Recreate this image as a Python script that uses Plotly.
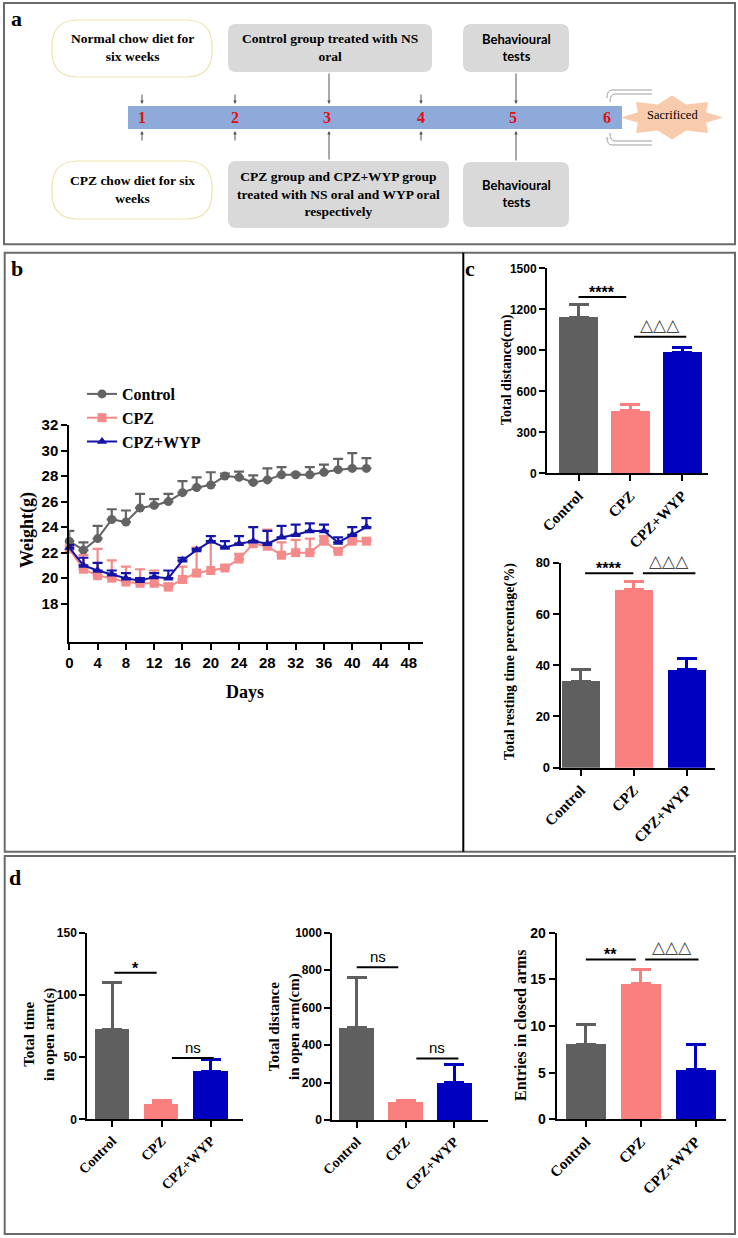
import numpy as np
import plotly.graph_objects as go

W, H = 738, 1238

# ---------------- data ----------------
days = [0, 2, 4, 6, 8, 10, 12, 14, 16, 18, 20, 22, 24, 26, 28, 30, 32, 34, 36, 38, 40, 42]
day_ticks = [0, 4, 8, 12, 16, 20, 24, 28, 32, 36, 40, 44, 48]
control_mean = [22.9, 22.2, 23.1, 24.6, 24.4, 25.5, 25.7, 26.0, 26.7, 27.1, 27.3, 28.0, 27.9, 27.5, 27.7, 28.1, 28.1, 28.1, 28.3, 28.5, 28.6, 28.6]
control_err = [0.8, 0.6, 1.0, 0.8, 0.9, 1.1, 0.5, 0.6, 0.9, 0.8, 1.0, 0.2, 0.45, 0.55, 0.9, 0.6, 0.1, 0.6, 0.6, 0.85, 1.2, 0.8]
cpz_mean = [22.3, 20.7, 20.2, 20.0, 19.7, 19.6, 19.6, 19.3, 19.9, 20.4, 20.6, 20.8, 21.5, 22.7, 22.5, 21.8, 22.0, 22.0, 22.9, 22.1, 22.9, 22.9]
cpz_err = [0.3, 1.1, 2.1, 1.4, 1.2, 1.1, 1.0, 0.3, 1.0, 2.0, 2.2, 0.2, 0.4, 0.2, 1.3, 1.0, 1.0, 1.1, 0.4, 0.2, 0.2, 0.2]
wyp_mean = [22.4, 21.0, 20.6, 20.3, 20.0, 19.8, 20.1, 20.0, 21.4, 22.2, 22.9, 22.4, 22.7, 22.9, 22.7, 23.2, 23.4, 23.7, 23.7, 22.8, 23.4, 24.0]
wyp_err = [0.2, 0.6, 0.6, 0.3, 0.4, 0.2, 0.3, 0.6, 0.2, 0.1, 0.4, 0.5, 0.6, 1.1, 1.0, 0.9, 0.8, 0.6, 0.5, 0.4, 0.6, 0.7]
weight_ticks = [18, 20, 22, 24, 26, 28, 30, 32]

categories = ["Control", "CPZ", "CPZ+WYP"]
dist_mean = [1143, 456, 884]
dist_err = [92, 44, 34]
rest_mean = [33.8, 69.6, 38.4]
rest_err = [4.5, 2.9, 4.4]
opentime_mean = [72.5, 12.6, 38.8]
opentime_err = [37.5, 2.4, 9.0]
opendist_mean = [495, 98, 199]
opendist_err = [268, 5, 100]
closed_mean = [8.05, 14.55, 5.3]
closed_err = [2.15, 1.5, 2.75]

# significance: (label, y value of bar)
sig_dist = [("****", 1290), ("△△△", 1000)]
sig_rest = [("****", 75.9), ("△△△", 75.9)]
sig_opentime = [("*", 117.8), ("ns", 49.3)]
sig_opendist = [("ns", 815), ("ns", 329)]
sig_closed = [("**", 17.14), ("△△△", 17.14)]

# ---------------- styles ----------------
C_GRAY = "#5f5f5f"
C_PINK = "#fa8080"
C_BLUE = "#0000c0"
LINE_COLORS = ["#636363", "#f58a8a", "#1414a8"]
BAR_COLORS = [C_GRAY, C_PINK, C_BLUE]
SERIF = "Liberation Serif"
SANS = "Liberation Sans"


def px(x):
    return x / W


def py(y):
    return 1 - y / H


fig = go.Figure()

# ---------------- panel b: line chart ----------------
series = [("Control", control_mean, control_err, "circle"),
          ("CPZ", cpz_mean, cpz_err, "square"),
          ("CPZ+WYP", wyp_mean, wyp_err, "triangle-up")]
for (name, m, e, sym), col in zip(series, LINE_COLORS):
    fig.add_trace(go.Scatter(
        x=days, y=m, name=name, mode="lines+markers",
        line=dict(color=col, width=2),
        marker=dict(symbol=sym, size=9, color=col),
        error_y=dict(type="data", symmetric=False, array=e,
                     arrayminus=[0] * len(e), color=col, thickness=2.2, width=5),
        cliponaxis=False, xaxis="x", yaxis="y", showlegend=True))

# ---------------- bar panels ----------------
bar_panels = [
    (2, dist_mean, dist_err, sig_dist, 0.75),
    (3, rest_mean, rest_err, sig_rest, 0.72),
    (4, opentime_mean, opentime_err, sig_opentime, 0.70),
    (5, opendist_mean, opendist_err, sig_opendist, 0.72),
    (6, closed_mean, closed_err, sig_closed, 0.72),
]
sig_spans = {
    2: [(0.0, 0.92), (1.07, 2.08)],
    3: [(0.08, 0.99), (1.17, 2.16)],
    4: [(0.04, 0.90), (1.21, 2.06)],
    5: [(0.0, 0.85), (1.22, 2.08)],
    6: [(0.0, 0.91), (1.08, 2.05)],
}
annotations = []
shapes = []
for k, m, e, sig, bw in bar_panels:
    for i, cat in enumerate(categories):
        fig.add_trace(go.Bar(
            x=[i], y=[m[i]], width=bw, name=cat, showlegend=False,
            marker=dict(color=BAR_COLORS[i], line=dict(width=0)),
            error_y=dict(type="data", symmetric=False, array=[e[i]], arrayminus=[0],
                         color=BAR_COLORS[i], thickness=3, width=10),
            xaxis=f"x{k}", yaxis=f"y{k}"))
    for (label, yv), (x0, x1) in zip(sig, sig_spans[k]):
        shapes.append(dict(type="line", xref=f"x{k}", yref=f"y{k}", x0=x0, x1=x1,
                           y0=yv, y1=yv, line=dict(color="black", width=2)))
        if "△" in label:
            f = dict(family="DejaVu Sans", size=17, color="#444444")
            ys = 0
        elif label == "ns":
            f = dict(family=SANS, size=15, color="black")
            ys = 0
        else:
            f = dict(family=SANS, size=16, color="black", weight="bold")
            ys = -6
        annotations.append(dict(xref=f"x{k}", yref=f"y{k}", x=(x0 + x1) / 2, y=yv,
                                text=label, showarrow=False, yanchor="bottom",
                                yshift=ys, font=f))

# ---------------- axes ----------------
axis_common = dict(showline=True, linecolor="black", linewidth=2, ticks="outside",
                   ticklen=6, tickwidth=2, tickcolor="black", showgrid=False,
                   zeroline=False, fixedrange=True, automargin=False)

lay = dict(width=W, height=H, margin=dict(l=0, r=0, t=0, b=0, autoexpand=False),
           paper_bgcolor="white", plot_bgcolor="white", bargap=0,
           showlegend=True)

lay["xaxis"] = dict(axis_common, domain=[px(69.3), px(423)], range=[0, 50],
                    tickvals=day_ticks, anchor="y",
                    tickfont=dict(family=SANS, size=15, color="black", weight="bold"))
lay["yaxis"] = dict(axis_common, domain=[py(642), py(425)], range=[15, 32],
                    tickvals=weight_ticks, anchor="x",
                    tickfont=dict(family=SANS, size=15, color="black", weight="bold"))

bar_geom = {
    2: dict(x=(547, 708), y=(473.3, 268.3), xr=[-0.61, 2.5], yr=[0, 1500], dt=300, fs=12, cfs=15),
    3: dict(x=(560.7, 715), y=(767.7, 562.7), xr=[-0.38, 2.53], yr=[0, 80], dt=20, fs=13, cfs=15),
    4: dict(x=(87.3, 242.7), y=(1119.3, 932.7), xr=[-0.51, 2.65], yr=[0, 150], dt=50, fs=12, cfs=14),
    5: dict(x=(332.3, 487.7), y=(1120, 932.7), xr=[-0.5, 2.68], yr=[0, 1000], dt=200, fs=12, cfs=14),
    6: dict(x=(556.7, 726), y=(1119.3, 932.7), xr=[-0.53, 2.55], yr=[0, 20], dt=5, fs=14, cfs=15),
}
for k, g in bar_geom.items():
    lay[f"xaxis{k}"] = dict(axis_common, domain=[px(g["x"][0]), px(g["x"][1])],
                            range=g["xr"], tickvals=[0, 1, 2], ticktext=categories,
                            tickangle=-45, anchor=f"y{k}",
                            tickfont=dict(family=SERIF, size=g["cfs"], color="black", weight="bold"))
    lay[f"yaxis{k}"] = dict(axis_common, domain=[py(g["y"][0]), py(g["y"][1])],
                            range=g["yr"], dtick=g["dt"], tick0=0, anchor=f"x{k}",
                            tickfont=dict(family=SANS, size=g["fs"], color="black", weight="bold"))

lay["legend"] = dict(x=px(82), y=py(377), xanchor="left", yanchor="top",
                     font=dict(family=SERIF, size=16, color="black", weight="bold"),
                     bgcolor="rgba(0,0,0,0)", itemwidth=30, tracegroupgap=0)


def ann(x, y, text, size, family=SERIF, color="black", bold=True, angle=0, **kw):
    d = dict(xref="paper", yref="paper", x=px(x), y=py(y), text=text, showarrow=False,
             textangle=angle, xanchor="center", yanchor="middle",
             font=dict(family=family, size=size, color=color, weight="bold" if bold else "normal"))
    d.update(kw)
    annotations.append(d)


# axis titles
ann(27, 530, "Weight(g)", 18, angle=-90)
ann(245, 692, "Days", 18)
ann(507, 370, "Total distance(cm)", 14, angle=-90)
ann(510, 662, "Total resting time percentage(%)", 14, angle=-90)
ann(39, 1035, "Total time<br>in open arm(s)", 15, angle=-90)
ann(284, 1027, "Total distance<br>in open arm(cm)", 15, angle=-90)
ann(520, 1025, "Entries in closed arms", 16, angle=-90)

# panel letters
ann(16, 18, "a", 22)
ann(17, 268, "b", 22)
ann(470, 268, "c", 22)
ann(15, 877, "d", 22)

# ---------------- panel a: timeline diagram ----------------
def rpath(x0, y0, x1, y1, r):
    def P(x, y):
        return f"{px(x):.5f},{py(y):.5f}"
    return (f"M{P(x0 + r, y0)} L{P(x1 - r, y0)} Q{P(x1, y0)} {P(x1, y0 + r)} "
            f"L{P(x1, y1 - r)} Q{P(x1, y1)} {P(x1 - r, y1)} L{P(x0 + r, y1)} "
            f"Q{P(x0, y1)} {P(x0, y1 - r)} L{P(x0, y0 + r)} Q{P(x0, y0)} {P(x0 + r, y0)} Z")


def pshape(path, fill, line_color="rgba(0,0,0,0)", lw=1):
    shapes.append(dict(type="path", xref="paper", yref="paper", path=path,
                       fillcolor=fill, line=dict(color=line_color, width=lw), layer="above"))


# panel borders
shapes.append(dict(type="rect", xref="paper", yref="paper", x0=px(4), x1=px(735), y0=py(244.3), y1=py(3),
                   line=dict(color="#6a6a6a", width=2)))
shapes.append(dict(type="rect", xref="paper", yref="paper", x0=px(4.7), x1=px(735), y0=py(851.7), y1=py(252.7),
                   line=dict(color="#6a6a6a", width=2)))
shapes.append(dict(type="line", xref="paper", yref="paper", x0=px(463.3), x1=px(463.3), y0=py(851.7), y1=py(252.7),
                   line=dict(color="black", width=2)))
shapes.append(dict(type="rect", xref="paper", yref="paper", x0=px(4.7), x1=px(735), y0=py(1234), y1=py(856),
                   line=dict(color="#6a6a6a", width=2)))

# blue timeline bar
shapes.append(dict(type="rect", xref="paper", yref="paper", x0=px(128), x1=px(622), y0=py(129), y1=py(106),
                   fillcolor="#8eaadb", line=dict(width=0)))

# boxes
pshape(rpath(52, 20, 212, 77, 26), "white", "#efe3b0", 1.2)
pshape(rpath(52, 161, 212, 219, 26), "white", "#efe3b0", 1.2)
pshape(rpath(228, 24, 432, 72, 8), "#d9d9d9")
pshape(rpath(228, 161, 449, 228, 8), "#d9d9d9")
pshape(rpath(463, 24, 569, 72, 8), "#d9d9d9")
pshape(rpath(463, 162, 569, 227, 8), "#d9d9d9")

ann(132, 48, "Normal chow diet for<br>six weeks", 13.5)
ann(132, 190, "CPZ chow diet for six<br>weeks", 13.5)
ann(330, 48, "Control group treated with NS<br>oral", 13.5)
ann(338, 194, "CPZ group and CPZ+WYP group<br>treated with NS oral and WYP oral<br>respectively", 13.5)
ann(516, 48, "Behavioural<br>tests", 13, family="Lato")
ann(516, 194, "Behavioural<br>tests", 13, family="Lato")

# timeline numbers
for i, xx in enumerate([141.7, 235, 326.7, 420.7, 513.3, 606.7]):
    ann(xx, 117.5, str(i + 1), 16, color="#e01010")

# arrows
def arrow(x, ytip, dy):
    annotations.append(dict(xref="paper", yref="paper", x=px(x), y=py(ytip), ax=0, ay=dy,
                            text="", showarrow=True, arrowhead=2, arrowsize=0.7,
                            arrowwidth=1, arrowcolor="#555555"))


for xx in [142, 235, 421]:
    arrow(xx, 104, -11)
    arrow(xx, 131, 11)
arrow(329, 104, -32)
arrow(516, 104, -32)
arrow(329, 131, 30)
arrow(516, 131, 31)

# curved arrows near 6
for yy, sgn in [(90, 1), (94, 1), (145, -1), (141, -1)]:
    xs = 652
    xe = 612 if yy in (90, 145) else 615
    path = (f"M{px(xs):.5f},{py(yy):.5f} L{px(xe):.5f},{py(yy):.5f} "
            f"Q{px(xe - 5):.5f},{py(yy):.5f} {px(xe - 5):.5f},{py(yy + sgn * 8):.5f}")
    shapes.append(dict(type="path", xref="paper", yref="paper", path=path,
                       line=dict(color="#a0a0a0", width=1)))

# sacrificed star
cx, cy = 672, 117.5
n = 8
pts = []
for j in range(2 * n):
    ang = np.pi * j / n
    rx, ry = (51, 22) if j % 2 == 0 else (37, 14)
    pts.append((cx + rx * np.cos(ang), cy - ry * np.sin(ang)))
star = "M" + " L".join(f"{px(a):.5f},{py(b):.5f}" for a, b in pts) + " Z"
pshape(star, "#f8cbad")
ann(672, 115, "Sacrificed", 12.5, bold=False)

lay["shapes"] = shapes
lay["annotations"] = annotations
fig.update_layout(**lay)

fig.write_html("out.html", post_script="document.body.style.margin='0';",
               config={"displayModeBar": False})
